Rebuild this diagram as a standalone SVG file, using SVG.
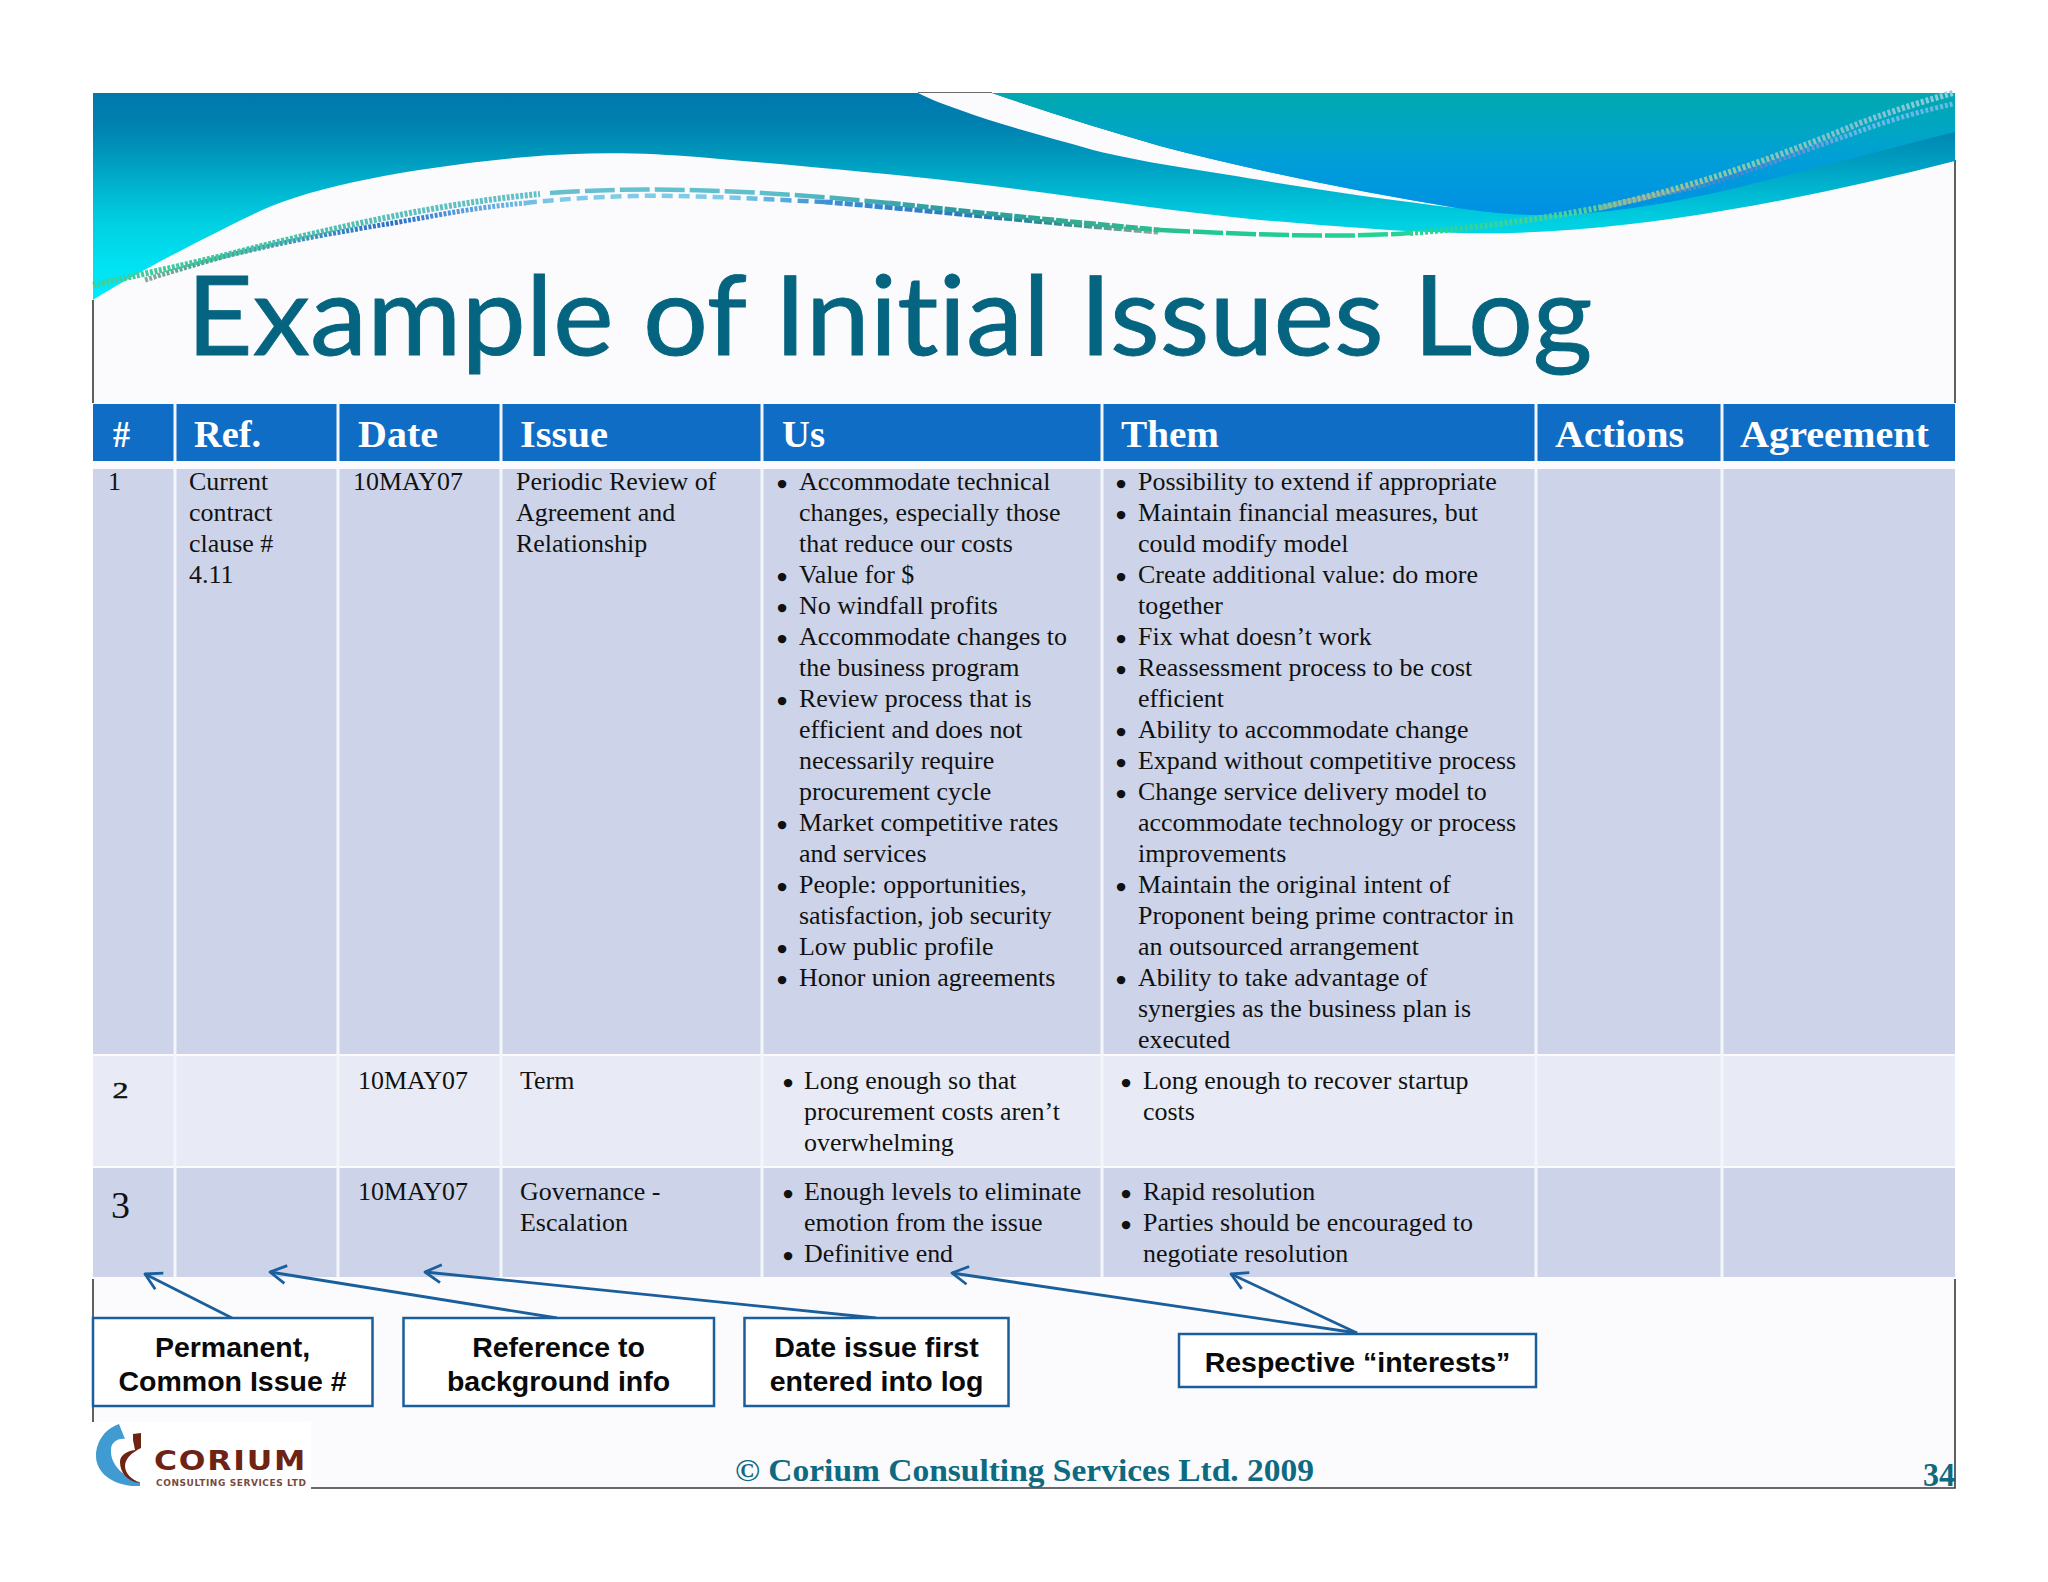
<svg xmlns="http://www.w3.org/2000/svg" width="2048" height="1582" viewBox="0 0 2048 1582">
<style>
.t{font-family:"Liberation Serif","Times New Roman",serif;font-size:25.95px;fill:#111}
.b{font-family:"Liberation Serif","Times New Roman",serif;font-size:26px;fill:#111;stroke:#111;stroke-width:2.2;text-anchor:middle}
.h{font-family:"Liberation Serif","Times New Roman",serif;font-size:38px;font-weight:bold;fill:#fff}
.c{font-family:"Liberation Sans",Arial,sans-serif;font-size:28.5px;font-weight:bold;fill:#0a0a0a;text-anchor:middle}
.box{fill:#fff;stroke:#1a5e9c;stroke-width:2.5}
.cell{stroke:none}
.sep{stroke:#f4f6fb;stroke-width:3;fill:none}
.arrow{fill:none;stroke:#1a5e9c;stroke-width:2.8;marker-end:url(#open)}
.frame{stroke:#3a3a3a;stroke-width:1.6;fill:none}
.dash{fill:none}
</style>
<defs>
<linearGradient id="gA" gradientUnits="userSpaceOnUse" x1="0" y1="93" x2="0" y2="300">
<stop offset="0" stop-color="#0078ae"/><stop offset=".16" stop-color="#0082b0"/><stop offset=".324" stop-color="#009cc0"/><stop offset=".483" stop-color="#00b8d2"/><stop offset=".628" stop-color="#00d0e2"/><stop offset=".807" stop-color="#00e0f0"/><stop offset="1" stop-color="#00ecfa"/>
</linearGradient>
<linearGradient id="gB" gradientUnits="userSpaceOnUse" x1="0" y1="93" x2="0" y2="214">
<stop offset="0" stop-color="#00a8ae"/><stop offset=".31" stop-color="#00a6c4"/><stop offset=".55" stop-color="#009fd8"/><stop offset="1" stop-color="#0090e4"/>
</linearGradient>
<linearGradient id="gL" gradientUnits="userSpaceOnUse" x1="93" y1="0" x2="1955" y2="0">
<stop offset="0" stop-color="#3fd09a"/><stop offset=".07" stop-color="#3fc8a0"/><stop offset=".125" stop-color="#50bfb0"/><stop offset=".18" stop-color="#5fc0c0"/><stop offset=".27" stop-color="#68c0d0"/><stop offset=".36" stop-color="#5ec0cc"/><stop offset=".466" stop-color="#2a9a9c"/><stop offset=".54" stop-color="#35b090"/><stop offset=".595" stop-color="#20c890"/><stop offset=".707" stop-color="#25d595"/><stop offset=".8" stop-color="#4fd09a"/><stop offset=".83" stop-color="#9abf90"/><stop offset=".88" stop-color="#8ac8a8"/><stop offset=".95" stop-color="#80c0d0"/><stop offset="1" stop-color="#8ccde0"/>
</linearGradient>
<linearGradient id="gM" gradientUnits="userSpaceOnUse" x1="145" y1="0" x2="1158" y2="0">
<stop offset="0" stop-color="#8aa8a0"/><stop offset=".054" stop-color="#4fa090"/><stop offset=".153" stop-color="#3f8fc0"/><stop offset=".245" stop-color="#2a70c8"/><stop offset=".32" stop-color="#5aa0e0"/><stop offset=".41" stop-color="#7fcbe8"/><stop offset=".577" stop-color="#7fcbe8"/><stop offset=".67" stop-color="#3f90d8"/><stop offset=".8" stop-color="#2a78c0"/><stop offset=".9" stop-color="#2a9090"/><stop offset="1" stop-color="#90a8a0"/>
</linearGradient>
<linearGradient id="gR" gradientUnits="userSpaceOnUse" x1="1600" y1="0" x2="1860" y2="0">
<stop offset="0" stop-color="#9aa8a0"/><stop offset=".49" stop-color="#4a80d0"/><stop offset=".77" stop-color="#6a90d8"/><stop offset="1" stop-color="#6ab8e8"/>
</linearGradient>
<marker id="open" markerUnits="userSpaceOnUse" markerWidth="24" markerHeight="24" refX="18" refY="12" orient="auto" overflow="visible">
<path d="M2,3 L18,12 L2,21" fill="none" stroke="#1a5e9c" stroke-width="2.8" stroke-linejoin="round"/>
</marker>
</defs>
<rect width="2048" height="1582" fill="#fff"/>
<rect x="93" y="93" width="1862" height="1395" fill="#fbfbfd"/>
<g id="frame">
<path class="frame" d="M93,300 V403 M93,1279 V1422 M1955,160 V403 M1955,1279 V1488 H311 M918,93 H992"/>
</g>
<g id="banner">
<path fill="url(#gA)" d="M93,300 C110,289 170,254 260,211 C320,184 420,167 526,157 C590,151 650,153 698,157 C790,165 880,173 960,182 C1060,194 1160,210 1260,220 C1330,226 1400,232 1460,233 C1550,235 1640,225 1727,210 C1805,197 1880,180 1955,161 V93 H93 Z"/>
<path fill="#fbfbfd" d="M918,93 H992 C1050,113 1105,130 1160,146 C1260,172 1360,192 1457,208 C1390,200 1320,190 1260,180 C1200,170 1140,162 1093,150 C1045,136 1000,125 960,110 C945,105 930,99 918,93 Z"/>
<path fill="url(#gB)" d="M992,93 H1955 V132 C1890,148 1830,165 1727,190 C1650,208 1590,215 1540,215 C1510,215 1485,212 1457,208 C1360,192 1260,172 1160,146 C1105,130 1050,113 992,93 Z"/>
<g class="dash">
<path stroke="url(#gM)" stroke-width="5" stroke-dasharray="3 1.5" d="M145,280 C170,272 200,263 226,256 C290,240 345,231 393,223 C440,215 470,208 526,203"/>
<path stroke="url(#gM)" stroke-width="4.5" stroke-dasharray="11 6" d="M526,203 C550,200 590,197 634,196 C690,195 740,198 825,202"/>
<path stroke="url(#gM)" stroke-width="5" stroke-dasharray="8 2" d="M825,202 C880,206 1040,222 1158,232"/>
<path stroke="url(#gR)" stroke-width="5" stroke-dasharray="3 2" d="M1600,208 C1650,195 1690,190 1727,178 C1770,163 1820,145 1860,131 C1890,120 1925,110 1953,104"/>
<path stroke="url(#gL)" stroke-width="6" stroke-dasharray="3 1.5" d="M93,285 C130,277 180,266 226,255 C300,236 370,220 426,210 C465,203 505,197 540,194"/>
<path stroke="url(#gL)" stroke-width="4.5" stroke-dasharray="30 5" d="M550,193 C640,186 760,190 889,203"/>
<path stroke="url(#gL)" stroke-width="5" stroke-dasharray="12 2" d="M889,203 C960,211 1060,221 1160,230"/>
<path stroke="url(#gL)" stroke-width="4.5" stroke-dasharray="30 3" d="M1160,230 C1260,235 1343,238 1410,233"/>
<path stroke="url(#gL)" stroke-width="6" stroke-dasharray="3 2" d="M1410,233 C1500,226 1593,212 1660,193 C1727,175 1800,148 1860,123 C1890,112 1920,102 1953,93"/>
</g>
</g>
<text id="title" x="186.5" y="355" font-family="Lato,'Noto Sans',sans-serif" font-size="110" fill="#05647f" stroke="#05647f" stroke-width=".9" style="font-variant-ligatures:none" textLength="1406" lengthAdjust="spacingAndGlyphs">Example of Initial Issues Log</text>

<g id="table-backgrounds">
<rect class="cell" x="93" y="404" width="1862" height="57" fill="#106dc5"/>
<rect class="cell" x="93" y="469" width="1862" height="585" fill="#cdd4e9"/>
<rect class="cell" x="93" y="1056" width="1862" height="110" fill="#e8ebf5"/>
<rect class="cell" x="93" y="1168" width="1862" height="109" fill="#cdd4e9"/>
<path class="sep" d="M175,404 V461 M338,404 V461 M501,404 V461 M762,404 V461 M1102,404 V461 M1536,404 V461 M1722,404 V461 M175,469 V1277 M338,469 V1277 M501,469 V1277 M762,469 V1277 M1102,469 V1277 M1536,469 V1277 M1722,469 V1277"/>
</g>

<g id="header-row">
<text class="h" x="113" y="447" textLength="17" lengthAdjust="spacingAndGlyphs">#</text>
<text class="h" x="194" y="447" textLength="67" lengthAdjust="spacingAndGlyphs">Ref.</text>
<text class="h" x="358" y="447" textLength="80" lengthAdjust="spacingAndGlyphs">Date</text>
<text class="h" x="520" y="447" textLength="88" lengthAdjust="spacingAndGlyphs">Issue</text>
<text class="h" x="782" y="447" textLength="43" lengthAdjust="spacingAndGlyphs">Us</text>
<text class="h" x="1121" y="447" textLength="98" lengthAdjust="spacingAndGlyphs">Them</text>
<text class="h" x="1555" y="447" textLength="129" lengthAdjust="spacingAndGlyphs">Actions</text>
<text class="h" x="1740" y="447" textLength="189" lengthAdjust="spacingAndGlyphs">Agreement</text>
</g>

<g id="row-1">
<text class="t" x="108" y="490">1</text>
<text class="t" x="189" y="490">Current</text>
<text class="t" x="189" y="521">contract</text>
<text class="t" x="189" y="552">clause #</text>
<text class="t" x="189" y="583">4.11</text>
<text class="t" x="353" y="490">10MAY07</text>
<text class="t" x="516" y="490">Periodic Review of</text>
<text class="t" x="516" y="521">Agreement and</text>
<text class="t" x="516" y="552">Relationship</text>
<g id="row-1-us">
<text class="b" x="782" y="493">•</text><text class="t" x="799" y="490">Accommodate technical</text>
<text class="t" x="799" y="521">changes, especially those</text>
<text class="t" x="799" y="552">that reduce our costs</text>
<text class="b" x="782" y="586">•</text><text class="t" x="799" y="583">Value for $</text>
<text class="b" x="782" y="617">•</text><text class="t" x="799" y="614">No windfall profits</text>
<text class="b" x="782" y="648">•</text><text class="t" x="799" y="645">Accommodate changes to</text>
<text class="t" x="799" y="676">the business program</text>
<text class="b" x="782" y="710">•</text><text class="t" x="799" y="707">Review process that is</text>
<text class="t" x="799" y="738">efficient and does not</text>
<text class="t" x="799" y="769">necessarily require</text>
<text class="t" x="799" y="800">procurement cycle</text>
<text class="b" x="782" y="834">•</text><text class="t" x="799" y="831">Market competitive rates</text>
<text class="t" x="799" y="862">and services</text>
<text class="b" x="782" y="896">•</text><text class="t" x="799" y="893">People: opportunities,</text>
<text class="t" x="799" y="924">satisfaction, job security</text>
<text class="b" x="782" y="958">•</text><text class="t" x="799" y="955">Low public profile</text>
<text class="b" x="782" y="989">•</text><text class="t" x="799" y="986">Honor union agreements</text>
</g>
<g id="row-1-them">
<text class="b" x="1121" y="493">•</text><text class="t" x="1138" y="490">Possibility to extend if appropriate</text>
<text class="b" x="1121" y="524">•</text><text class="t" x="1138" y="521">Maintain financial measures, but</text>
<text class="t" x="1138" y="552">could modify model</text>
<text class="b" x="1121" y="586">•</text><text class="t" x="1138" y="583">Create additional value: do more</text>
<text class="t" x="1138" y="614">together</text>
<text class="b" x="1121" y="648">•</text><text class="t" x="1138" y="645">Fix what doesn’t work</text>
<text class="b" x="1121" y="679">•</text><text class="t" x="1138" y="676">Reassessment process to be cost</text>
<text class="t" x="1138" y="707">efficient</text>
<text class="b" x="1121" y="741">•</text><text class="t" x="1138" y="738">Ability to accommodate change</text>
<text class="b" x="1121" y="772">•</text><text class="t" x="1138" y="769">Expand without competitive process</text>
<text class="b" x="1121" y="803">•</text><text class="t" x="1138" y="800">Change service delivery model to</text>
<text class="t" x="1138" y="831">accommodate technology or process</text>
<text class="t" x="1138" y="862">improvements</text>
<text class="b" x="1121" y="896">•</text><text class="t" x="1138" y="893">Maintain the original intent of</text>
<text class="t" x="1138" y="924">Proponent being prime contractor in</text>
<text class="t" x="1138" y="955">an outsourced arrangement</text>
<text class="b" x="1121" y="989">•</text><text class="t" x="1138" y="986">Ability to take advantage of</text>
<text class="t" x="1138" y="1017">synergies as the business plan is</text>
<text class="t" x="1138" y="1048">executed</text>
</g>
</g>

<g id="row-2">
<text class="t" x="112.5" y="1098" style="font-size:24px" stroke="#111" stroke-width=".5" textLength="16" lengthAdjust="spacingAndGlyphs">2</text>
<text class="t" x="358" y="1089">10MAY07</text>
<text class="t" x="520" y="1089">Term</text>
<text class="b" x="788" y="1092">•</text><text class="t" x="804" y="1089">Long enough so that</text>
<text class="t" x="804" y="1120">procurement costs aren’t</text>
<text class="t" x="804" y="1151">overwhelming</text>
<text class="b" x="1126" y="1092">•</text><text class="t" x="1143" y="1089">Long enough to recover startup</text>
<text class="t" x="1143" y="1120">costs</text>
</g>

<g id="row-3">
<text class="t" x="111" y="1218" style="font-size:38px">3</text>
<text class="t" x="358" y="1200">10MAY07</text>
<text class="t" x="520" y="1200">Governance -</text>
<text class="t" x="520" y="1231">Escalation</text>
<text class="b" x="788" y="1203">•</text><text class="t" x="804" y="1200">Enough levels to eliminate</text>
<text class="t" x="804" y="1231">emotion from the issue</text>
<text class="b" x="788" y="1265">•</text><text class="t" x="804" y="1262">Definitive end</text>
<text class="b" x="1126" y="1203">•</text><text class="t" x="1143" y="1200">Rapid resolution</text>
<text class="b" x="1126" y="1234">•</text><text class="t" x="1143" y="1231">Parties should be encouraged to</text>
<text class="t" x="1143" y="1262">negotiate resolution</text>
</g>

<g id="connectors">
<path class="arrow" d="M232,1318 L145,1274"/>
<path class="arrow" d="M557,1318 L270,1272"/>
<path class="arrow" d="M876,1318 L425,1272"/>
<path class="arrow" d="M1357,1333 L952,1273"/>
<path class="arrow" d="M1357,1333 L1231,1274"/>
</g>

<g id="note-issue-number">
<rect class="box" x="93" y="1318" width="279.5" height="88"/>
<text class="c" x="232.5" y="1357">Permanent,</text>
<text class="c" x="232.5" y="1391">Common Issue #</text>
</g>
<g id="note-reference">
<rect class="box" x="403.5" y="1318" width="310.5" height="88"/>
<text class="c" x="558.5" y="1357">Reference to</text>
<text class="c" x="558.5" y="1391">background info</text>
</g>
<g id="note-date">
<rect class="box" x="744.5" y="1318" width="264" height="88"/>
<text class="c" x="876.5" y="1357">Date issue first</text>
<text class="c" x="876.5" y="1391">entered into log</text>
</g>
<g id="note-interests">
<rect class="box" x="1179" y="1334" width="357" height="53"/>
<text class="c" x="1357.5" y="1372">Respective “interests”</text>
</g>

<g id="logo">
<rect x="93" y="1422" width="218" height="68" fill="#fff"/>
<path fill="#3f9bd1" d="M119,1424 C102,1430 96,1445 96,1456 C96,1472 112,1487 140,1486 L140,1482 C125,1478 110,1465 111,1450 C111,1442 118,1438 125,1439 Z"/>
<path fill="#6e2314" d="M133,1434 L141,1433 V1448 C133,1452 125,1458 125,1466 C125,1473 131,1479 140,1483 C128,1482 120,1473 120,1462 C120,1455 127,1451 135,1450 L133,1440 Z"/>
<text x="154" y="1470" font-family="'DejaVu Sans',sans-serif" font-weight="bold" font-size="27" letter-spacing="1.5" fill="#6e2314" textLength="153" lengthAdjust="spacingAndGlyphs">CORIUM</text>
<text x="156" y="1486" font-family="'DejaVu Sans',sans-serif" font-weight="bold" font-size="9" fill="#7a4a3c" textLength="150" lengthAdjust="spacing">CONSULTING SERVICES LTD</text>
</g>
<g id="footer">
<text x="735" y="1481" font-family="'Liberation Serif',serif" font-weight="bold" font-size="32" fill="#0e6a80" textLength="579" lengthAdjust="spacingAndGlyphs">© Corium Consulting Services Ltd. 2009</text>
<text x="1923" y="1486" font-family="'Liberation Serif',serif" font-weight="bold" font-size="33" fill="#0e6a80" textLength="32" lengthAdjust="spacingAndGlyphs">34</text>
</g>
</svg>
